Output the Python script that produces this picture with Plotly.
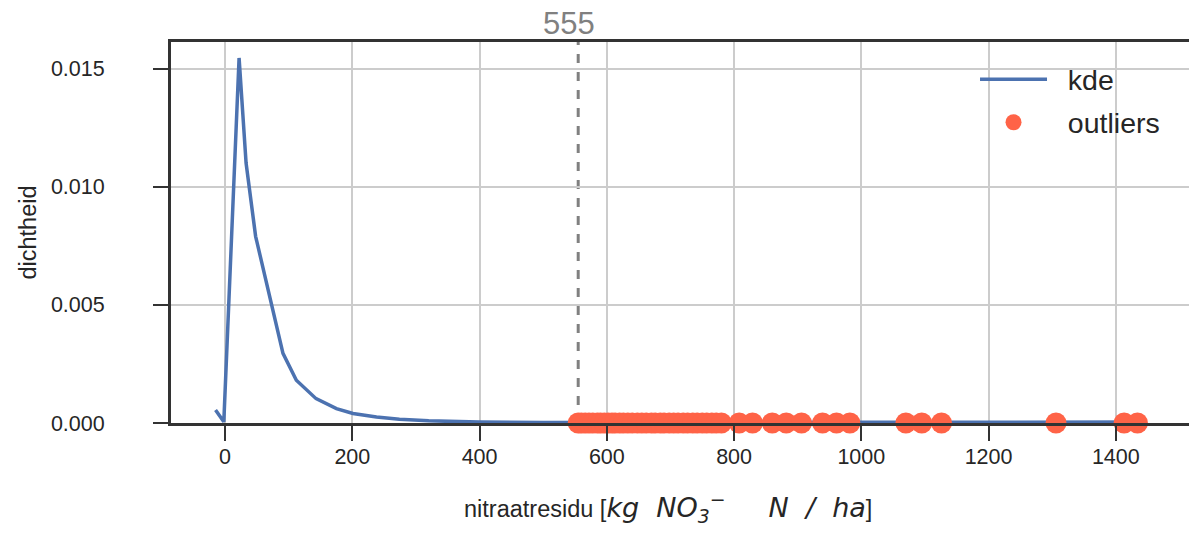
import plotly.graph_objects as go

# KDE curve
kde_x = [-15, -2, 22, 33, 48, 70, 91, 112, 143, 175, 201, 238, 274, 320, 400, 500, 600, 700, 800, 900, 1000, 1100, 1200, 1280, 1310, 1340, 1370, 1400, 1440]
kde_y = [0.00055, 0.00005, 0.01545, 0.0110, 0.0079, 0.00534, 0.00295, 0.00181, 0.00103, 0.00061, 0.00040, 0.00025, 0.00016, 0.00009, 0.00004, 0.00002, 0.00002, 0.00002, 0.00001, 0.00001, 0.00001, 0.00001, 0.00001, 0.00002, 0.00004, 0.00003, 0.00004, 0.00003, 0.00004]

# outlier values (all at density 0)
outliers = [555, 560, 566, 572, 578, 585, 590, 596, 602, 608, 613, 620, 626, 633, 640, 648,
            655, 662, 670, 676, 684, 690, 698, 705, 712, 720, 727, 735, 742, 750, 757, 765,
            772, 780, 808, 829, 860, 882, 906, 939, 961, 982, 1070, 1095, 1126, 1306, 1413, 1434]
threshold = 555

x_ticks = [0, 200, 400, 600, 800, 1000, 1200, 1400]
y_ticks = [0.0, 0.005, 0.010, 0.015]
y_tick_labels = ["0.000", "0.005", "0.010", "0.015"]

FONT = "Liberation Sans, Arial, sans-serif"
TXT = "#262626"
SPINE = "#333333"
S = "\u00a0"
NB = S * 2

x_title = ("nitraatresidu [<span style=\"font-family:'DejaVu Sans';font-size:27px\"><i>kg" + S * 2
           + "NO<sub>3</sub><sup>−</sup>" + S * 5 + "N" + S * 2 + "/" + S * 2 + "ha</i></span>]")

fig = go.Figure()
fig.add_trace(go.Scatter(x=kde_x, y=kde_y, mode="lines", name=NB + "kde",
                         line=dict(color="#4C72B0", width=3.5), legendgroup="a"))
fig.add_trace(go.Scatter(x=outliers, y=[0] * len(outliers), mode="markers", name=NB + "outliers",
                         marker=dict(color="#FF6347", size=21, line=dict(width=0)),
                         cliponaxis=False, legendgroup="b"))

fig.add_shape(type="line", x0=threshold, x1=threshold, xref="x", y0=0, y1=1, yref="paper",
              line=dict(color="#808080", width=3, dash="dash"), layer="between")
fig.add_annotation(x=threshold, y=1, xref="x", yref="paper", text=str(threshold),
                   showarrow=False, yanchor="bottom", yshift=0, xshift=-9, borderpad=0,
                   font=dict(family=FONT, size=31, color="#808080"))

# x-axis title
fig.add_annotation(x=0.488, y=-0.2205, xref="paper", yref="paper", text=x_title,
                   showarrow=False, xanchor="center", yanchor="middle",
                   font=dict(family=FONT, size=23.5, color=TXT))

fig.update_layout(
    width=1189, height=537,
    margin=dict(l=171, r=0, t=42, b=114),
    paper_bgcolor="white", plot_bgcolor="white",
    font=dict(family=FONT, size=21.5, color=TXT),
    legend=dict(x=0.7898, y=0.968, xanchor="left", yanchor="top",
                bgcolor="rgba(0,0,0,0)", font=dict(size=28.5, color=TXT),
                tracegroupgap=3, itemwidth=67),
    showlegend=True,
)
fig.update_xaxes(range=[-85, 1515], tickvals=x_ticks, ticktext=[str(v) for v in x_ticks],
                 showgrid=True, gridcolor="#cccccc", gridwidth=1.5,
                 showline=True, linecolor=SPINE, linewidth=3, mirror=True,
                 ticks="outside", ticklen=15, tickwidth=2, tickcolor=SPINE,
                 ticklabelstandoff=-3, zeroline=False, automargin=False,
                 tickfont=dict(size=21.5))
fig.update_yaxes(range=[0, 0.016125], tickvals=y_ticks, ticktext=y_tick_labels,
                 showgrid=True, gridcolor="#cccccc", gridwidth=1.5,
                 showline=True, linecolor=SPINE, linewidth=3, mirror=False,
                 ticks="outside", ticklen=15, tickwidth=2, tickcolor=SPINE,
                 ticklabelstandoff=44, zeroline=False, automargin=False,
                 tickfont=dict(size=21.5),
                 title=dict(text="dichtheid", font=dict(size=23.5, color=TXT), standoff=8))

fig.write_html("out.html", config={"displayModeBar": False},
               post_script="document.body.style.margin='0px';")
